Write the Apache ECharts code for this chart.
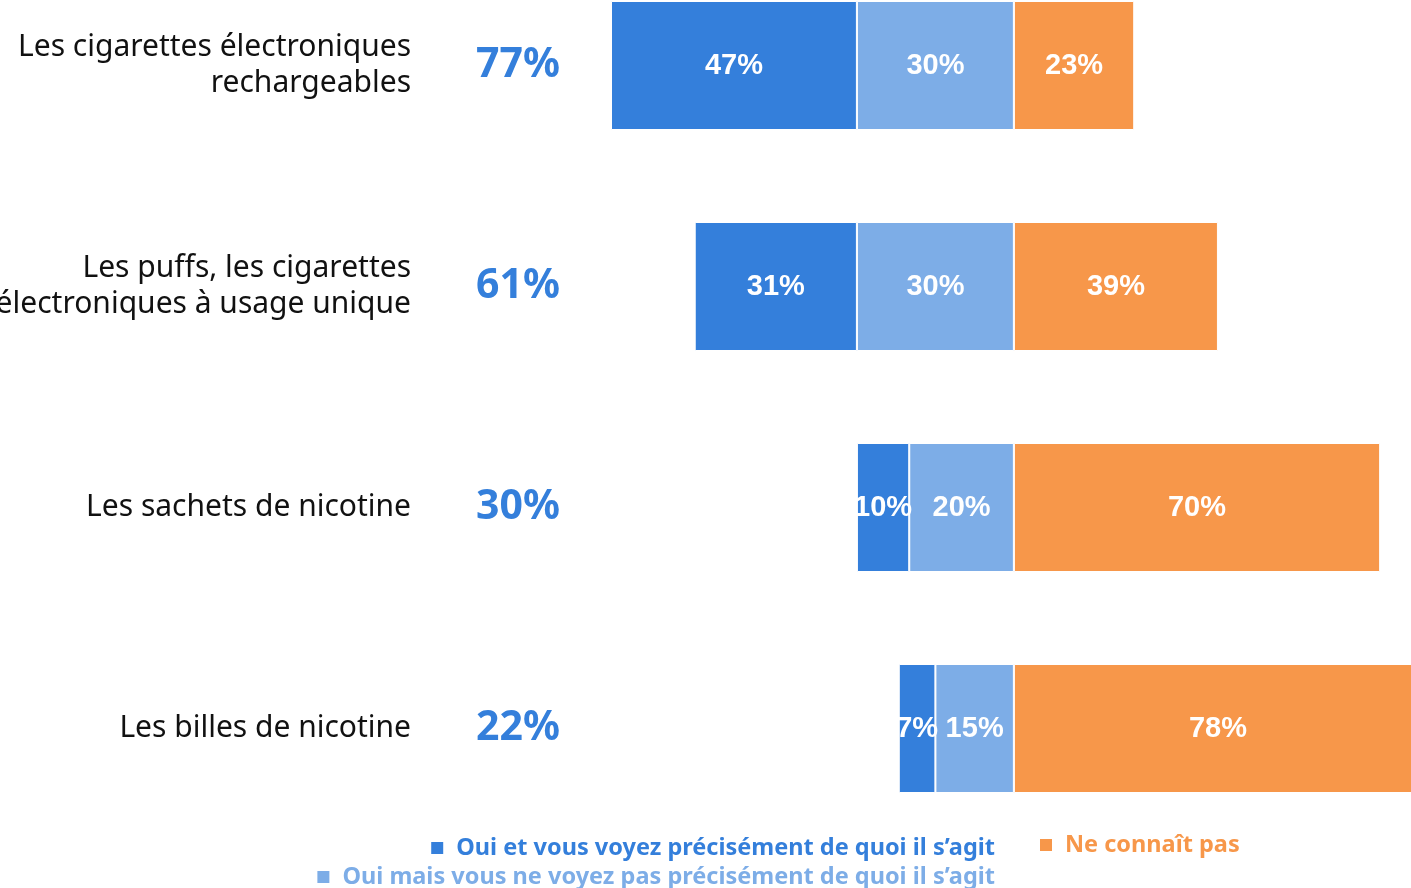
<!DOCTYPE html>
<html>
<head>
<meta charset="utf-8">
<script src="https://cdn.jsdelivr.net/npm/echarts@6/dist/echarts.min.js"></script>
<style>
  html, body { margin: 0; padding: 0; background: #fff; }
  #chart { width: 1411px; height: 888px; }
</style>
</head>
<body>
<div id="chart"></div>
<script>
// categories, top to bottom
var categories = [
  "Les cigarettes électroniques\nrechargeables",
  "Les puffs, les cigarettes\nélectroniques à usage unique",
  "Les sachets de nicotine",
  "Les billes de nicotine"
];
var totals = ["77%", "61%", "30%", "22%"];
// shares in %
var ouiPrecis = [47, 31, 10, 7];
var ouiVague = [30, 30, 20, 15];
var neConnaitPas = [23, 39, 70, 78];

var seriesNames = [
  "Oui et vous voyez précisément de quoi il s’agit",
  "Oui mais vous ne voyez pas précisément de quoi il s’agit",
  "Ne connaît pas"
];
var colors = ["#347FDB", "#7DADE7", "#F7974A"];

var chart = echarts.init(document.getElementById("chart"));

var barLabel = {
  show: true,
  position: "inside",
  color: "#fff",
  fontFamily: "Liberation Sans",
  fontWeight: "bold",
  fontSize: 29,
  formatter: function (p) {
    return Math.abs(p.value) + "%";
  }
};

function legendText(color) {
  return {
    color: color,
    fontFamily: "Noto Sans",
    fontWeight: "bold",
    fontSize: 23.5,
    lineHeight: 26,
    padding: [0, 0, 0, 7]
  };
}

var options = {
  animation: false,
  grid: {
    left: 611,
    top: -45,
    width: 811,
    height: 884,
    outerBoundsMode: "none"
  },
  xAxis: {
    type: "value",
    min: -77,
    max: 78,
    show: false
  },
  yAxis: [
    {
      type: "category",
      data: categories,
      inverse: true,
      axisLine: { show: false },
      axisTick: { show: false },
      axisLabel: {
        margin: 200,
        align: "right",
        color: "#111",
        fontFamily: "Noto Sans",
        fontSize: 30,
        lineHeight: 36,
        padding: [0, 0, 6, 0]
      }
    },
    {
      type: "category",
      data: totals,
      inverse: true,
      position: "left",
      axisLine: { show: false },
      axisTick: { show: false },
      axisLabel: {
        margin: 51,
        align: "right",
        color: colors[0],
        fontFamily: "Noto Sans",
        fontWeight: "bold",
        fontSize: 41
      }
    }
  ],
  legend: [
    {
      data: [seriesNames[0]],
      right: 411,
      top: 830,
      icon: "rect",
      itemWidth: 14,
      itemHeight: 14,
      selectedMode: false,
      textStyle: legendText(colors[0])
    },
    {
      data: [seriesNames[1]],
      right: 411,
      top: 859,
      icon: "rect",
      itemWidth: 14,
      itemHeight: 14,
      selectedMode: false,
      textStyle: legendText(colors[1])
    },
    {
      data: [seriesNames[2]],
      left: 1033,
      top: 827,
      icon: "rect",
      itemWidth: 14,
      itemHeight: 14,
      selectedMode: false,
      textStyle: legendText(colors[2])
    }
  ],
  series: [
    {
      name: seriesNames[1],
      type: "bar",
      stack: "total",
      barWidth: 129,
      data: ouiVague.map(function (v) { return -v; }),
      itemStyle: { color: colors[1], borderColor: "#fff", borderWidth: 1 },
      label: barLabel
    },
    {
      name: seriesNames[0],
      type: "bar",
      stack: "total",
      barWidth: 129,
      data: ouiPrecis.map(function (v) { return -v; }),
      itemStyle: { color: colors[0], borderColor: "#fff", borderWidth: 1 },
      label: barLabel
    },
    {
      name: seriesNames[2],
      type: "bar",
      stack: "total",
      barWidth: 129,
      data: neConnaitPas,
      itemStyle: { color: colors[2], borderColor: "#fff", borderWidth: 1 },
      label: barLabel
    }
  ]
};

chart.setOption(options, true);
</script>
</body>
</html>
